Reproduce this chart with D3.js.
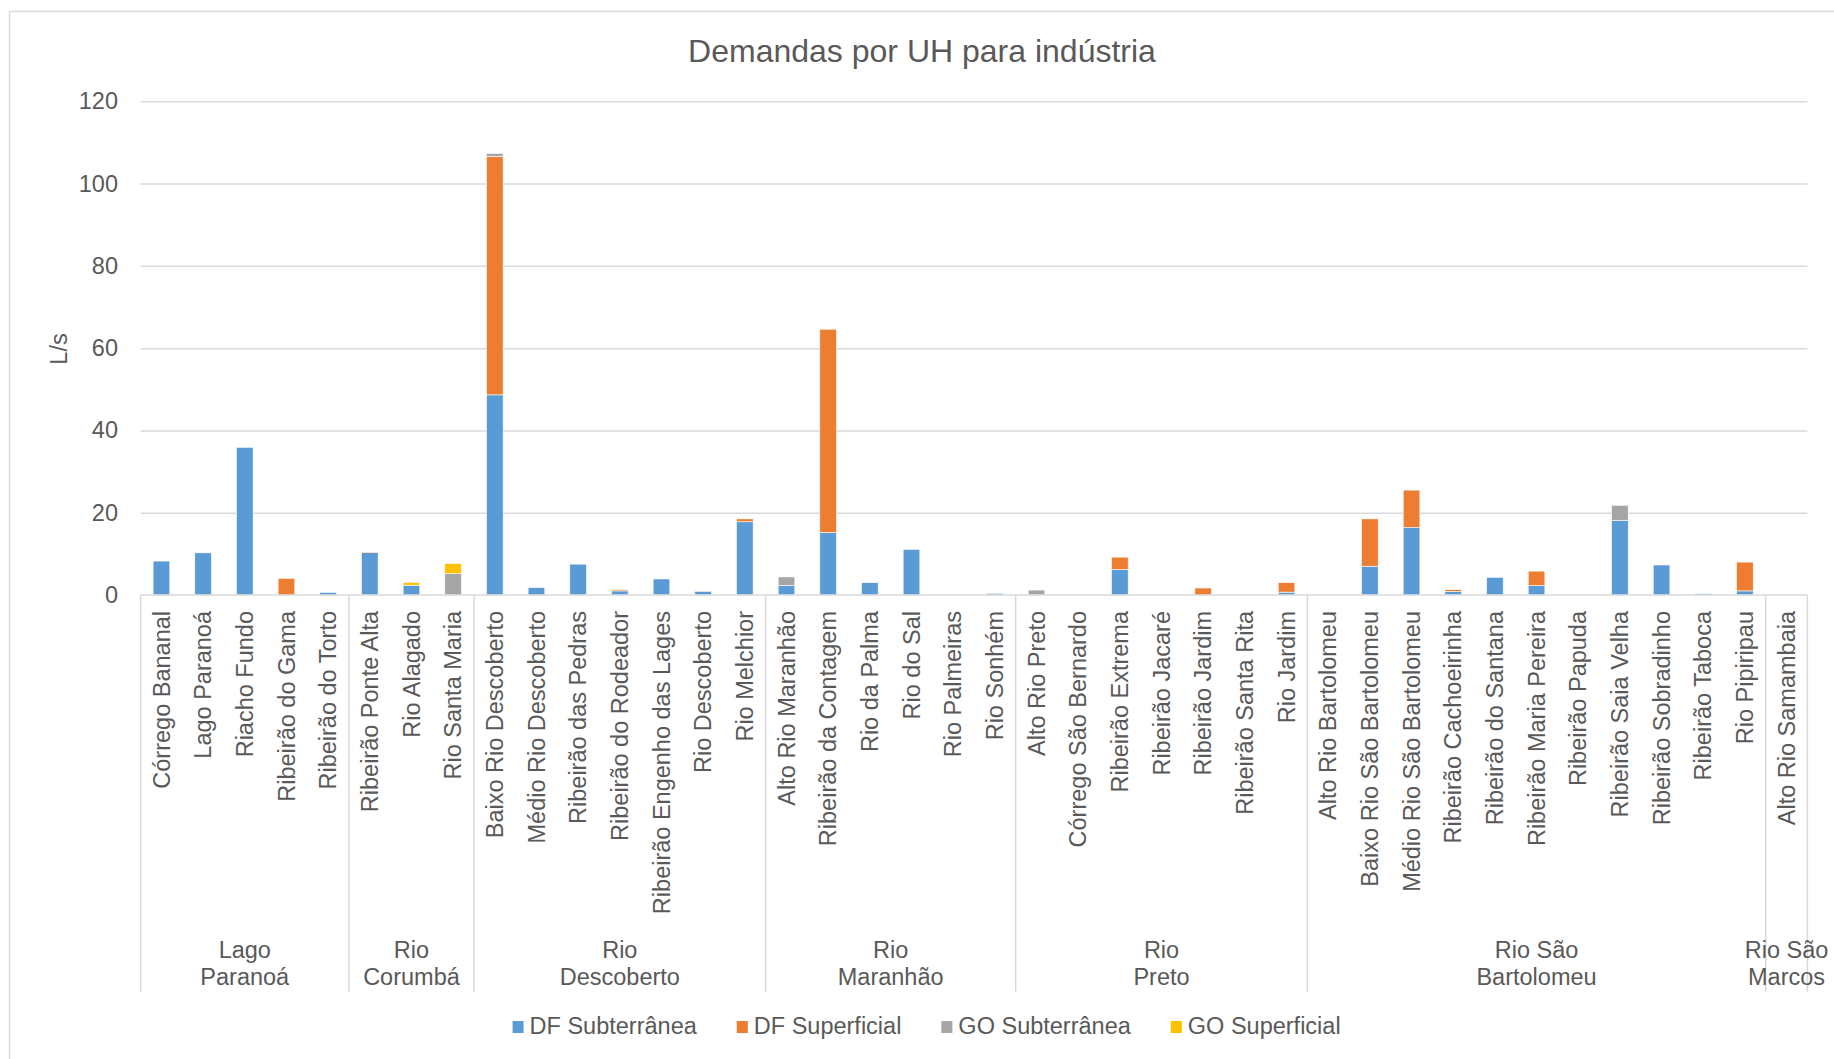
<!DOCTYPE html>
<html>
<head>
<meta charset="utf-8">
<script src="https://cdn.jsdelivr.net/npm/d3@7"></script>
<style>
  html, body { margin: 0; padding: 0; background: #fff; }
  svg { display: block; }
  text { font-family: "Liberation Sans", Arial, sans-serif; fill: #595959; }
</style>
</head>
<body>
<svg id="chart" width="1834" height="1059"></svg>
<script>
// ---------------- DATA ----------------
const title = "Demandas por UH para indústria";
const yTitle = "L/s";
const categories = [
  "Córrego Bananal","Lago Paranoá","Riacho Fundo","Ribeirão do Gama","Ribeirão do Torto",
  "Ribeirão Ponte Alta","Rio Alagado","Rio Santa Maria",
  "Baixo Rio Descoberto","Médio Rio Descoberto","Ribeirão das Pedras","Ribeirão do Rodeador","Ribeirão Engenho das Lages","Rio Descoberto","Rio Melchior",
  "Alto Rio Maranhão","Ribeirão da Contagem","Rio da Palma","Rio do Sal","Rio Palmeiras","Rio Sonhém",
  "Alto Rio Preto","Córrego São Bernardo","Ribeirão Extrema","Ribeirão Jacaré","Ribeirão Jardim","Ribeirão Santa Rita","Rio Jardim",
  "Alto Rio Bartolomeu","Baixo Rio São Bartolomeu","Médio Rio São Bartolomeu","Ribeirão Cachoeirinha","Ribeirão do Santana","Ribeirão Maria Pereira","Ribeirão Papuda","Ribeirão Saia Velha","Ribeirão Sobradinho","Ribeirão Taboca","Rio Pipiripau",
  "Alto Rio Samambaia"
];
const groupLabels = [["Lago","Paranoá"],["Rio","Corumbá"],["Rio","Descoberto"],["Rio","Maranhão"],["Rio","Preto"],["Rio São","Bartolomeu"],["Rio São","Marcos"]];
const groupCounts = [5,3,7,6,7,11,1];

const seriesNames = ["DF Subterrânea","DF Superficial","GO Subterrânea","GO Superficial"];
const seriesColors = ["#5b9bd5","#ed7d31","#a5a5a5","#ffc000"];

const dfSubterranea = [8.25,10.25,35.9,0,0.63, 10.3,2.38,0, 48.65,1.8,7.5,1.0,3.9,0.9,17.8, 2.3,15.2,3.0,11.1,0,0.4, 0,0,6.2,0,0,0,0.7, 0,7.0,16.4,0.9,4.3,2.3,0,18.1,7.3,0.3,1.0, 0];
const dfSuperficial = [0,0,0,4.06,0, 0.15,0,0, 57.95,0,0,0.3,0,0,0.7, 0,49.4,0,0,0,0, 0,0,3.0,0,1.7,0,2.3, 0,11.5,9.1,0.4,0,3.5,0,0,0,0,7.0, 0];
const goSubterranea = [0,0,0,0,0, 0,0,5.2, 0.75,0,0,0,0,0,0, 2.1,0,0,0,0,0, 1.2,0,0,0,0,0,0, 0,0,0,0,0,0,0,3.7,0,0,0, 0];
const goSuperficial = [0,0,0,0,0, 0,0.68,2.45, 0,0,0,0,0,0,0, 0,0,0,0,0,0, 0,0,0,0,0,0,0, 0,0,0,0,0,0,0,0,0,0,0, 0];

const yTicks = [0,20,40,60,80,100,120];

// ---------------- LAYOUT ----------------
const W = 1834, H = 1059;
const plot = { left: 140.6, right: 1807.4, top: 101.3, bottom: 595 };
const chartCenter = 922;
const FS = 23.5;

const svg = d3.select("#chart");

// chart border
svg.append("rect").attr("x", 9.5).attr("y", 11.5).attr("width", W).attr("height", H)
  .attr("fill", "none").attr("stroke", "#d9d9d9").attr("stroke-width", 1.5);

const table = categories.map((c, i) => ({
  cat: i,
  "DF Subterrânea": dfSubterranea[i],
  "DF Superficial": dfSuperficial[i],
  "GO Subterrânea": goSubterranea[i],
  "GO Superficial": goSuperficial[i]
}));

const x = d3.scaleBand().domain(d3.range(categories.length))
  .range([plot.left, plot.right]).paddingInner(0.6).paddingOuter(0.3);
const y = d3.scaleLinear().domain([0, 120]).range([plot.bottom, plot.top]);
const color = d3.scaleOrdinal().domain(seriesNames).range(seriesColors);

// gridlines
svg.append("g").attr("transform", `translate(${plot.left},0)`)
  .call(d3.axisLeft(y).tickValues(yTicks.filter(t => t > 0)).tickSize(-(plot.right - plot.left)).tickFormat(""))
  .call(g => g.select(".domain").remove())
  .call(g => g.selectAll("line").attr("stroke", "#d9d9d9").attr("stroke-width", 1.5));

// y tick labels
svg.append("g").attr("transform", `translate(${plot.left},0)`)
  .call(d3.axisLeft(y).tickValues(yTicks).tickSize(0).tickPadding(22.6))
  .call(g => g.select(".domain").remove())
  .call(g => g.selectAll("text").attr("font-size", FS).attr("fill", "#595959")
    .style("font-family", '"Liberation Sans", Arial, sans-serif'));

// y title
svg.append("text").attr("transform", `translate(66.7,349) rotate(-90)`)
  .attr("text-anchor", "middle").attr("font-size", FS).text(yTitle);

// title
svg.append("text").attr("x", chartCenter).attr("y", 62)
  .attr("text-anchor", "middle").attr("font-size", 32).text(title);

// stacked bars
const stack = d3.stack().keys(seriesNames)(table);
svg.append("g").selectAll("g").data(stack).join("g")
  .attr("fill", d => color(d.key))
  .selectAll("rect").data(d => d.filter(p => p[1] - p[0] > 0)).join("rect")
  .attr("x", d => x(d.data.cat))
  .attr("width", x.bandwidth())
  .attr("y", d => y(d[1]))
  .attr("height", d => y(d[0]) - y(d[1]))
  .attr("stroke", "#ffffff").attr("stroke-width", 0.6);

// x axis line
const step = x.step();
const x0 = x.range()[0];
svg.append("line").attr("x1", plot.left).attr("x2", plot.right)
  .attr("y1", plot.bottom).attr("y2", plot.bottom)
  .attr("stroke", "#d9d9d9").attr("stroke-width", 1.5);

// category labels
svg.append("g").selectAll("text").data(categories).join("text")
  .attr("transform", (d, i) => `translate(${x(i) + x.bandwidth() / 2},611) rotate(-90)`)
  .attr("text-anchor", "end").attr("dy", "0.35em").attr("font-size", FS)
  .text(d => d);

// group separators and labels
const sepBottom = 991.7;
let cum = 0;
const bounds = [0];
groupCounts.forEach(c => { cum += c; bounds.push(cum); });
svg.append("g").selectAll("line").data(bounds).join("line")
  .attr("x1", k => x0 + k * step).attr("x2", k => x0 + k * step)
  .attr("y1", plot.bottom).attr("y2", sepBottom)
  .attr("stroke", "#d9d9d9").attr("stroke-width", 1.5);

const gl = svg.append("g").selectAll("text").data(groupLabels).join("text")
  .attr("text-anchor", "middle").attr("font-size", FS)
  .attr("x", (d, i) => x0 + (bounds[i] + bounds[i + 1]) / 2 * step)
  .attr("y", 957.5);
gl.each(function(d) {
  const t = d3.select(this);
  const xx = t.attr("x");
  d.forEach((line, j) => t.append("tspan").attr("x", xx).attr("dy", j === 0 ? 0 : 27.5).text(line));
});

// legend
const legend = svg.append("g");
const items = legend.selectAll("g").data(seriesNames).join("g");
items.append("rect").attr("width", 11).attr("height", 12).attr("y", 1021)
  .attr("fill", d => color(d));
items.append("text").attr("x", 17).attr("y", 1034).attr("font-size", FS).text(d => d);
const widths = [];
items.each(function() { widths.push(17 + d3.select(this).select("text").node().getComputedTextLength()); });
const gap = 40;
const total = d3.sum(widths) + gap * (widths.length - 1);
let lx = 926.6 - total / 2;
items.attr("transform", (d, i) => {
  const t = `translate(${lx},0)`;
  lx += widths[i] + gap;
  return t;
});
</script>
</body>
</html>
